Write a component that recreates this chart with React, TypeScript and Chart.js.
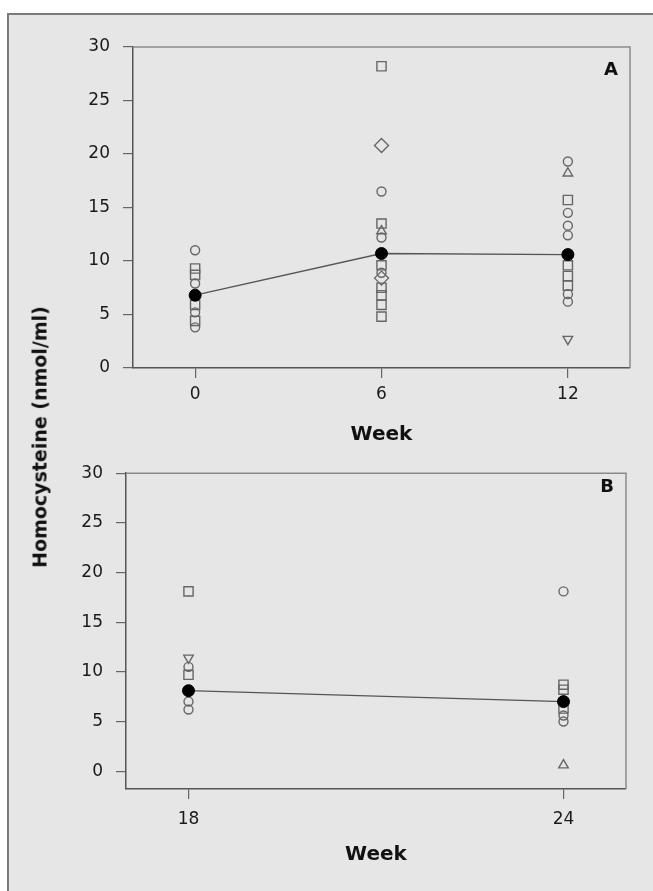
import React, { useEffect, useRef } from "react";
import { Chart, registerables } from "chart.js";

Chart.register(...registerables);

// ---------- Data ----------
const yTicks = [0, 5, 10, 15, 20, 25, 30];

// Panel A
const weeksA = [0, 6, 12];
const meanA = [6.8, 10.7, 10.6];
const week0Values = [11.0, 9.3, 8.7, 7.9, 5.9, 5.2, 4.4, 3.8];
const week0Shapes = ["circle", "rect", "rect", "circle", "rect", "circle", "rect", "circle"];
const week6Values = [28.2, 20.8, 16.5, 13.5, 12.8, 12.2, 9.6, 8.9, 8.4, 7.5, 6.8, 5.9, 4.8];
const week6Shapes = ["rect", "diamond", "circle", "rect", "triangle", "circle", "rect", "circle", "diamond", "rect", "rect", "rect", "rect"];
const week12Values = [19.3, 18.2, 15.7, 14.5, 13.3, 12.4, 9.6, 8.6, 7.7, 6.9, 6.2, 2.7];
const week12Shapes = ["circle", "triangle", "rect", "circle", "circle", "circle", "rect", "rect", "rect", "circle", "circle", "triangleDown"];

// Panel B
const weeksB = [18, 24];
const meanB = [8.1, 7.0];
const week18Values = [18.1, 11.4, 10.5, 9.7, 7.0, 6.2];
const week18Shapes = ["rect", "triangleDown", "circle", "rect", "circle", "circle"];
const week24Values = [18.1, 8.7, 8.2, 6.3, 5.6, 5.0, 0.6];
const week24Shapes = ["circle", "rect", "rect", "rect", "circle", "circle", "triangle"];

// ---------- Styles ----------
const FONT = "'DejaVu Sans', 'Liberation Sans', Arial, sans-serif";
const markerStyle: Record<string, { style: string; radius: number; rotation: number }> = {
  circle: { style: "circle", radius: 4.5, rotation: 0 },
  rect: { style: "rect", radius: 6.5, rotation: 0 },
  diamond: { style: "rectRot", radius: 7, rotation: 0 },
  triangle: { style: "triangle", radius: 5.5, rotation: 0 },
  triangleDown: { style: "triangle", radius: 5.5, rotation: 180 },
};

const framePlugin = {
  id: "frameBox",
  afterDraw(chart: any) {
    const { ctx, chartArea } = chart;
    const { left, top, right, bottom } = chartArea;
    ctx.save();
    ctx.strokeStyle = "#8a8a8a";
    ctx.lineWidth = 1.5;
    ctx.beginPath();
    ctx.moveTo(left, top);
    ctx.lineTo(right, top);
    ctx.lineTo(right, bottom);
    ctx.stroke();
    ctx.restore();
  },
};

type Group = { week: number; values: number[]; shapes: string[] };

function buildConfig(opts: {
  weeks: number[];
  means: number[];
  groups: Group[];
  xMin: number;
  xMax: number;
  yMin: number;
  yMax: number;
  xTicks: number[];
  padding: { top: number; right: number; left: number; bottom: number };
  yAxisWidth: number;
  xAxisHeight: number;
  xTickPadding: number;
  titlePadBottom: number;
}) {
  const pts: { x: number; y: number }[] = [];
  const styles: string[] = [];
  const radii: number[] = [];
  const rots: number[] = [];
  opts.groups.forEach((g) => {
    g.values.forEach((v, i) => {
      const m = markerStyle[g.shapes[i]];
      pts.push({ x: g.week, y: v });
      styles.push(m.style);
      radii.push(m.radius);
      rots.push(m.rotation);
    });
  });

  return {
    type: "scatter" as const,
    data: {
      datasets: [
        {
          label: "Mean",
          data: opts.weeks.map((w, i) => ({ x: w, y: opts.means[i] })),
          showLine: true,
          borderColor: "#555",
          borderWidth: 1.3,
          pointStyle: "circle",
          pointRadius: 6,
          pointBackgroundColor: "#000",
          pointBorderColor: "#000",
          pointBorderWidth: 1,
          order: 0,
        },
        {
          label: "Individual",
          data: pts,
          showLine: false,
          pointStyle: styles,
          pointRadius: radii,
          pointRotation: rots,
          pointBackgroundColor: "rgba(0,0,0,0)",
          pointBorderColor: "#666",
          pointBorderWidth: 1.4,
          order: 1,
        },
      ],
    },
    options: {
      animation: false,
      responsive: false,
      maintainAspectRatio: false,
      layout: { padding: opts.padding, autoPadding: false },
      plugins: {
        legend: { display: false },
        tooltip: { enabled: false },
      },
      scales: {
        x: {
          type: "linear",
          min: opts.xMin,
          max: opts.xMax,
          afterBuildTicks: (s: any) => {
            s.ticks = opts.xTicks.map((v) => ({ value: v }));
          },
          afterFit: (s: any) => {
            s.height = opts.xAxisHeight;
          },
          grid: { drawOnChartArea: false, drawTicks: true, tickLength: 10, color: "#666", lineWidth: 1.2 },
          border: { display: true, color: "#555", width: 1.5 },
          ticks: { font: { family: FONT, size: 17 }, color: "#1a1a1a", padding: opts.xTickPadding, maxRotation: 0 },
          title: {
            display: true,
            text: "Week",
            color: "#111",
            font: { family: FONT, size: 20, weight: "bold" },
            padding: { top: 0, bottom: opts.titlePadBottom },
          },
        },
        y: {
          type: "linear",
          min: opts.yMin,
          max: opts.yMax,
          afterBuildTicks: (s: any) => {
            s.ticks = yTicks.map((v) => ({ value: v }));
          },
          afterFit: (s: any) => {
            s.width = opts.yAxisWidth;
          },
          grid: { drawOnChartArea: false, drawTicks: true, tickLength: 10, color: "#666", lineWidth: 1.2 },
          border: { display: true, color: "#555", width: 1.5 },
          ticks: { font: { family: FONT, size: 17 }, color: "#1a1a1a", padding: 13 },
        },
      },
    },
    plugins: [framePlugin],
  };
}

function Panel(props: { top: number; height: number; config: any }) {
  const ref = useRef<HTMLCanvasElement | null>(null);
  useEffect(() => {
    if (!ref.current) return;
    const chart = new Chart(ref.current, props.config);
    return () => chart.destroy();
  }, []);
  return (
    <canvas
      ref={ref}
      width={653}
      height={props.height}
      style={{ position: "absolute", left: 0, top: props.top, width: 653, height: props.height, display: "block" }}
    />
  );
}

export default function App() {
  const configA = buildConfig({
    weeks: weeksA,
    means: meanA,
    groups: [
      { week: weeksA[0], values: week0Values, shapes: week0Shapes },
      { week: weeksA[1], values: week6Values, shapes: week6Shapes },
      { week: weeksA[2], values: week12Values, shapes: week12Shapes },
    ],
    xMin: -2,
    xMax: 14,
    yMin: 0,
    yMax: 30,
    xTicks: weeksA,
    padding: { top: 47, right: 23, left: 0, bottom: 0 },
    yAxisWidth: 133,
    xAxisHeight: 82,
    xTickPadding: 6,
    titlePadBottom: 3,
  });
  const configB = buildConfig({
    weeks: weeksB,
    means: meanB,
    groups: [
      { week: weeksB[0], values: week18Values, shapes: week18Shapes },
      { week: weeksB[1], values: week24Values, shapes: week24Shapes },
    ],
    xMin: 17,
    xMax: 25,
    yMin: -1.8,
    yMax: 30,
    xTicks: weeksB,
    padding: { top: 16, right: 27, left: 0, bottom: 0 },
    yAxisWidth: 126,
    xAxisHeight: 102,
    xTickPadding: 10,
    titlePadBottom: 24,
  });

  const labelStyle: React.CSSProperties = {
    position: "absolute",
    transform: "translate(-50%, -50%)",
    fontFamily: FONT,
    fontWeight: "bold",
    fontSize: 18,
    color: "#111",
    lineHeight: 1,
  };

  return (
    <div style={{ position: "absolute", left: 0, top: 0, width: 653, height: 891, overflow: "hidden", background: "#fff" }}>
      <div
        style={{
          position: "absolute",
          left: 7,
          top: 13,
          width: 700,
          height: 950,
          background: "#e6e6e6",
          borderLeft: "2px solid #7a7a7a",
          borderTop: "2px solid #7a7a7a",
        }}
      />
      <Panel top={0} height={450} config={configA} />
      <Panel top={450} height={441} config={configB} />
      <div
        style={{
          ...labelStyle,
          left: 40,
          top: 437,
          transform: "translate(-50%, -50%) rotate(-90deg)",
          whiteSpace: "nowrap",
          fontSize: 19,
        }}
      >
        Homocysteine (nmol/ml)
      </div>
      <div style={{ ...labelStyle, left: 611, top: 69 }}>A</div>
      <div style={{ ...labelStyle, left: 607, top: 486 }}>B</div>
    </div>
  );
}
